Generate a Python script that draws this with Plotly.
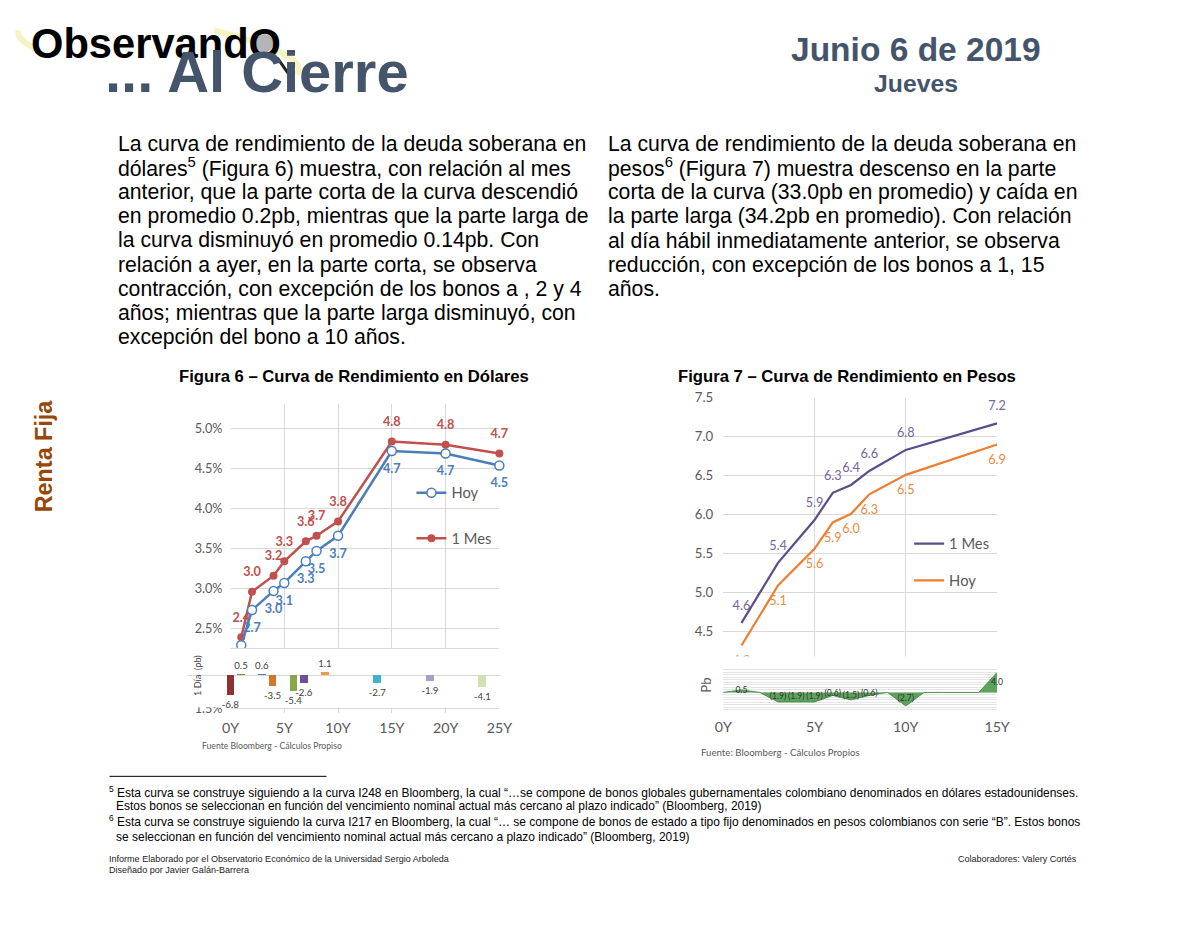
import numpy as np
import plotly.graph_objects as go

# Layout helpers: positions are given in picture pixels of the 1200x927 page.
PW, PH, M = 1200, 927, 8
FW, FH = PW - 2 * M, PH - 2 * M
SX, OX, SY, OY = 0.982, 7.5, 0.99, 7.0      # measured page->picture mapping
FS = 1 / 0.984                               # font compensation
def X(q): return ((q - OX) / SX - M) / FW
def Y(q): return 1 - ((q - OY) / SY - M) / FH
def f(s): return s * FS

# ---------------- data ----------------
usd_years = [1, 2, 4, 5, 7, 8, 10, 15, 20, 25]
usd_hoy = [2.29, 2.73, 2.97, 3.07, 3.34, 3.47, 3.66, 4.72, 4.69, 4.54]
usd_mes = [2.39, 2.96, 3.16, 3.34, 3.59, 3.66, 3.84, 4.84, 4.80, 4.69]
usd_dia = [-6.8, 0.5, 0.6, -3.5, -5.4, -2.6, 1.1, -2.7, -1.9, -4.1]
usd_dia_colors = ["#8E3130", "#6F8C3A", "#3F7FBF", "#D4772C", "#86A84A",
                  "#6B4F98", "#F0994A", "#41B1CC", "#A99CC9", "#CFE0B1"]
usd_xticks = [0, 5, 10, 15, 20, 25]
usd_xticklabels = ["0Y", "5Y", "10Y", "15Y", "20Y", "25Y"]
usd_yticks = [1.5, 2.0, 2.5, 3.0, 3.5, 4.0, 4.5, 5.0]

cop_years = [1, 3, 5, 6, 7, 8, 10, 15]
cop_mes = [4.61, 5.38, 5.93, 6.28, 6.38, 6.56, 6.83, 7.17]
cop_hoy = [4.32, 5.09, 5.56, 5.90, 6.01, 6.26, 6.51, 6.90]
cop_dia_years = [0, 1, 2, 3, 4, 5, 6, 7, 8, 9, 10, 11, 12, 13, 14, 15]
cop_dia = [0, 0.5, 0, -1.9, -1.9, -1.9, -0.6, -1.5, -0.6, 0, -2.7, 0, 0, 0, 0, 4.0]
cop_xticks = [0, 5, 10, 15]
cop_xticklabels = ["0Y", "5Y", "10Y", "15Y"]
cop_yticks = [4.5, 5.0, 5.5, 6.0, 6.5, 7.0, 7.5]
cop_dia_grid = [i * 0.5 for i in range(-7, 10)]

CH = "Lato, Carlito, sans-serif"
AR = "Liberation Sans, Arial, sans-serif"
BLUE = "#4A7EBB"; RED = "#C0504D"; PURPLE = "#5E4B8B"; ORANGE = "#ED7D31"
GRID = "#D9D9D9"; TICK = "#595959"

fig = go.Figure()

# ---------- Figure 6 (USD) ----------
fig.add_trace(go.Scatter(x=usd_years, y=usd_mes, mode="lines+markers", name="1 Mes",
                         line=dict(color=RED, width=2.5), marker=dict(size=8, color=RED),
                         legend="legend", legendgroup="m", legendrank=2, cliponaxis=False,
                         xaxis="x", yaxis="y", hoverinfo="skip"))
fig.add_trace(go.Scatter(x=usd_years, y=usd_mes, mode="markers+text",
                         text=[f"{v:.1f}" for v in usd_mes], textposition="top center",
                         marker=dict(size=18, opacity=0),
                         textfont=dict(family=CH, size=f(12.5), color=RED, weight="bold"),
                         showlegend=False, cliponaxis=False, xaxis="x", yaxis="y", hoverinfo="skip"))
fig.add_trace(go.Scatter(x=usd_years, y=usd_hoy, mode="lines+markers", name="Hoy",
                         line=dict(color=BLUE, width=2.5),
                         marker=dict(size=9, color="white", line=dict(color=BLUE, width=1.5)),
                         legend="legend", legendgroup="h", legendrank=1, cliponaxis=False,
                         xaxis="x", yaxis="y", hoverinfo="skip"))
fig.add_trace(go.Scatter(x=usd_years, y=usd_hoy, mode="markers+text",
                         text=[f"{v:.1f}" for v in usd_hoy], textposition="bottom center",
                         marker=dict(size=18, opacity=0),
                         textfont=dict(family=CH, size=f(12.5), color=BLUE, weight="bold"),
                         showlegend=False, cliponaxis=False, xaxis="x", yaxis="y", hoverinfo="skip"))

# inset bars (1 dia)
fig.add_trace(go.Bar(x=usd_years, y=usd_dia, marker=dict(color=usd_dia_colors, line=dict(width=0)),
                     width=0.75, text=[f"{v:.1f}" for v in usd_dia], textposition="outside",
                     constraintext="none",
                     textfont=dict(family=CH, size=f(9.5), color="#404040"), cliponaxis=False,
                     showlegend=False, xaxis="x2", yaxis="y2", hoverinfo="skip"))

# ---------- Figure 7 (COP) ----------
fig.add_trace(go.Scatter(x=cop_years, y=cop_mes, mode="lines", name="1 Mes",
                         line=dict(color=PURPLE, width=2.2), legend="legend2", legendgroup="pm",
                         cliponaxis=False, xaxis="x3", yaxis="y3", hoverinfo="skip"))
fig.add_trace(go.Scatter(x=cop_years, y=cop_mes, mode="markers+text",
                         text=[f"{v:.1f}" for v in cop_mes], textposition="top center",
                         marker=dict(size=14, opacity=0),
                         textfont=dict(family=CH, size=f(12.5), color="#7464A0"),
                         showlegend=False, cliponaxis=False, xaxis="x3", yaxis="y3", hoverinfo="skip"))
fig.add_trace(go.Scatter(x=cop_years, y=cop_hoy, mode="lines", name="Hoy",
                         line=dict(color=ORANGE, width=2.2), legend="legend2", legendgroup="ph",
                         cliponaxis=False, xaxis="x3", yaxis="y3", hoverinfo="skip"))
fig.add_trace(go.Scatter(x=cop_years, y=cop_hoy, mode="markers+text",
                         text=[f"{v:.1f}" for v in cop_hoy], textposition="bottom center",
                         marker=dict(size=14, opacity=0),
                         textfont=dict(family=CH, size=f(12.5), color="#F08A3E"),
                         showlegend=False, cliponaxis=False, xaxis="x3", yaxis="y3", hoverinfo="skip"))

# inset area (Pb)
fig.add_trace(go.Scatter(x=cop_dia_years, y=cop_dia, mode="lines", fill="tozeroy",
                         fillcolor="#5DA35D", line=dict(color="#4A8F4A", width=1),
                         showlegend=False, xaxis="x4", yaxis="y4", hoverinfo="skip"))
lab_x = [xv for xv, v in zip(cop_dia_years, cop_dia) if v != 0]
lab_v = [v for v in cop_dia if v != 0]
fig.add_trace(go.Scatter(x=lab_x, y=[v / 2 for v in lab_v], mode="text",
                         text=[(f"({abs(v):.1f})" if v < 0 else f"{v:.1f}") for v in lab_v],
                         textposition="middle center",
                         textfont=dict(family=CH, size=f(8.5), color="#333333"),
                         showlegend=False, cliponaxis=False, xaxis="x4", yaxis="y4", hoverinfo="skip"))

# ---------------- axes ----------------
ax_common = dict(zeroline=False, showline=False, ticks="", fixedrange=True)
fig.update_layout(
    xaxis=dict(domain=[X(229), X(498)], range=[0, 25], anchor="y", tickmode="array",
               tickvals=usd_xticks, ticktext=usd_xticklabels, showgrid=True, gridcolor=GRID,
               tickfont=dict(family=CH, size=f(14), color=TICK), ticklabelstandoff=4, **ax_common),
    yaxis=dict(domain=[Y(713), Y(403)], range=[1.4375, 5.3125], anchor="x", tickmode="array",
               tickvals=usd_yticks, ticktext=[f"{v:.1f}%" for v in usd_yticks],
               showgrid=True, gridcolor=GRID,
               tickfont=dict(family=CH, size=f(12.5), color=TICK), ticklabelstandoff=7, **ax_common),
    xaxis2=dict(domain=[X(185), X(500)], range=[-3.19, 26.81], anchor="y2", showgrid=False,
                showticklabels=False, **ax_common),
    yaxis2=dict(domain=[Y(707), Y(648)], range=[-10.9, 9.2], anchor="x2", showgrid=False,
                showticklabels=False, ticks="", showline=False, fixedrange=True,
                zeroline=True, zerolinecolor=GRID, zerolinewidth=1),
    xaxis3=dict(domain=[X(722), X(996)], range=[0, 15], anchor="y3", tickmode="array",
                tickvals=cop_xticks, showticklabels=False, showgrid=True, gridcolor=GRID, **ax_common),
    yaxis3=dict(domain=[Y(665), Y(397)], range=[4.5 - (665 - 631) / 78, 7.5], anchor="x3",
                tickmode="array", tickvals=cop_yticks, ticktext=[f"{v:.1f}" for v in cop_yticks],
                showgrid=True, gridcolor=GRID,
                tickfont=dict(family=CH, size=f(13), color=TICK), ticklabelstandoff=9, **ax_common),
    xaxis4=dict(domain=[X(722), X(996)], range=[0, 15], anchor="y4", tickmode="array",
                tickvals=cop_xticks, ticktext=cop_xticklabels, showgrid=False,
                tickfont=dict(family=CH, size=f(14), color=TICK), ticklabelstandoff=4, **ax_common),
    yaxis4=dict(domain=[Y(712), Y(656)], range=[-4.0, 7.2], anchor="x4", tickmode="array",
                tickvals=cop_dia_grid, showgrid=True, gridcolor="#E4E4E4",
                showticklabels=False, **ax_common),
)

fig.update_layout(
    width=FW, height=FH, autosize=False,
    margin=dict(l=0, r=0, t=0, b=0, pad=0),
    paper_bgcolor="white", plot_bgcolor="white",
    bargap=0,
    legend=dict(x=X(410), y=Y(476), xanchor="left", yanchor="top", bgcolor="rgba(0,0,0,0)",
                font=dict(family=CH, size=f(14.5), color=TICK), traceorder="grouped",
                tracegroupgap=23.5, itemwidth=30),
    legend2=dict(x=X(908), y=Y(527), xanchor="left", yanchor="top", bgcolor="rgba(0,0,0,0)",
                 font=dict(family=CH, size=f(14.5), color=TICK), traceorder="grouped",
                 tracegroupgap=14.5, itemwidth=30),
)

# ---------------- shapes ----------------
shapes = []
# logo orbit (faint yellow swoosh pieces)
a, b, th = 142, 28, np.deg2rad(9)
def orbit(t0, t1, cx, cy):
    t = np.linspace(t0, t1, 50)
    ex = cx + a * np.cos(t) * np.cos(th) - b * np.sin(t) * np.sin(th)
    ey = cy + a * np.cos(t) * np.sin(th) + b * np.sin(t) * np.cos(th)
    return "M " + " L ".join(f"{X(u):.5f},{Y(v):.5f}" for u, v in zip(ex, ey))
for t0, t1, cy in [(np.pi - 0.6, np.pi + 0.05, 53), (1.62 * np.pi, 2 * np.pi + 0.15, 47)]:
    shapes.append(dict(type="path", path=orbit(t0, t1, 157, cy), xref="paper", yref="paper",
                       layer="below", line=dict(color="rgba(240,235,150,0.6)", width=6)))
# magnifier lens
shapes.append(dict(type="circle", xref="paper", yref="paper", layer="below",
                   x0=X(254), x1=X(272), y0=Y(51), y1=Y(33),
                   fillcolor="#B5B5B5", line=dict(width=0)))
shapes.append(dict(type="line", xref="paper", yref="paper", layer="above",
                   x0=X(276), y0=Y(57), x1=X(292), y1=Y(80), line=dict(color="#222222", width=3)))
# inset top border (fig 6)
shapes.append(dict(type="line", xref="paper", yref="paper", layer="above",
                   x0=X(229), x1=X(498), y0=Y(648), y1=Y(648), line=dict(color=GRID, width=1)))
# footnote rule
shapes.append(dict(type="line", xref="paper", yref="paper", layer="above",
                   x0=X(108), x1=X(325), y0=Y(776), y1=Y(776), line=dict(color="black", width=1)))
fig.update_layout(shapes=shapes)

# ---------------- text ----------------
ann = []
def txt(s, px, py, size, color="black", family=AR, xanchor="left", angle=0):
    ann.append(dict(text=s, x=X(px), y=Y(py), xref="paper", yref="paper", xanchor=xanchor,
                    yanchor="middle", showarrow=False, textangle=angle,
                    font=dict(family=family, size=f(size), color=color)))

txt("<b>ObservandO</b>", 27, 42, 41, "black")
txt("<b>... Al Cierre</b>", 101, 70.5, 57, "#44546A")
txt("<b>Junio 6 de 2019</b>", 915, 48, 33, "#44546A", xanchor="center")
txt("<b>Jueves</b>", 915, 82, 24.4, "#44546A", xanchor="center")
txt("<b>Renta Fija</b>", 42, 455, 23, "#974806", xanchor="center", angle=-90)

left_lines = [
    "La curva de rendimiento de la deuda soberana en",
    "dólares<sup>5</sup> (Figura 6) muestra, con relación al mes",
    "anterior, que la parte corta de la curva descendió",
    "en promedio 0.2pb, mientras que la parte larga de",
    "la curva disminuyó en promedio 0.14pb. Con",
    "relación a ayer, en la parte corta, se observa",
    "contracción, con excepción de los bonos a , 2 y 4",
    "años; mientras que la parte larga disminuyó, con",
    "excepción del bono a 10 años.",
]
right_lines = [
    "La curva de rendimiento de la deuda soberana en",
    "pesos<sup>6</sup> (Figura 7) muestra descenso en la parte",
    "corta de la curva (33.0pb en promedio) y caída en",
    "la parte larga (34.2pb en promedio). Con relación",
    "al día hábil inmediatamente anterior, se observa",
    "reducción, con excepción de los bonos a 1, 15",
    "años.",
]
for i, s in enumerate(left_lines):
    txt(s, 114.5, 142.5 + i * 24.25, 20.9)
for i, s in enumerate(right_lines):
    txt(s, 604.5, 142.5 + i * 24.25, 20.9)

txt("<b>Figura 6 – Curva de Rendimiento en Dólares</b>", 353, 376, 16.4, xanchor="center")
txt("<b>Figura 7 – Curva de Rendimiento en Pesos</b>", 846, 376, 16.4, xanchor="center")

txt("Fuente Bloomberg - Cálculos Propiso", 198, 745, 8.5, "#595959", family=CH)
txt("Fuente: Bloomberg - Cálculos Propios", 698, 752, 9.5, "#595959", family=CH)
txt("1 Día  (pb)", 196, 675, 9, "#404040", family=CH, xanchor="center", angle=-90)
txt("Pb", 705, 685, 13, "#595959", family=CH, xanchor="center", angle=-90)

foot = [
    ("<sup>5</sup> Esta curva se construye siguiendo a la curva I248 en Bloomberg, la cual “…se compone de bonos globales gubernamentales colombiano denominados en dólares estadounidenses.", 105, 792),
    ("Estos bonos se seleccionan en función del vencimiento nominal actual más cercano al plazo indicado” (Bloomberg, 2019)", 112, 806),
    ("<sup>6</sup> Esta curva se construye siguiendo la curva I217 en Bloomberg, la cual “… se compone de bonos de estado a tipo fijo denominados en pesos colombianos con serie “B”. Estos bonos", 105, 821),
    ("se seleccionan en función del vencimiento nominal actual más cercano a plazo indicado” (Bloomberg, 2019)", 112, 837),
]
for s, px, py in foot:
    txt(s, px, py, 11.8, "black")

txt("Informe Elaborado por el Observatorio Económico de la Universidad Sergio Arboleda", 105, 859, 8.9, "#222222")
txt("Diseñado por Javier Galán-Barrera", 105, 870, 8.9, "#222222")
txt("Colaboradores: Valery Cortés", 1078, 859, 8.9, "#222222", xanchor="right")

fig.update_layout(annotations=ann)

fig.write_html("out.html", config={"displayModeBar": False, "staticPlot": True})
